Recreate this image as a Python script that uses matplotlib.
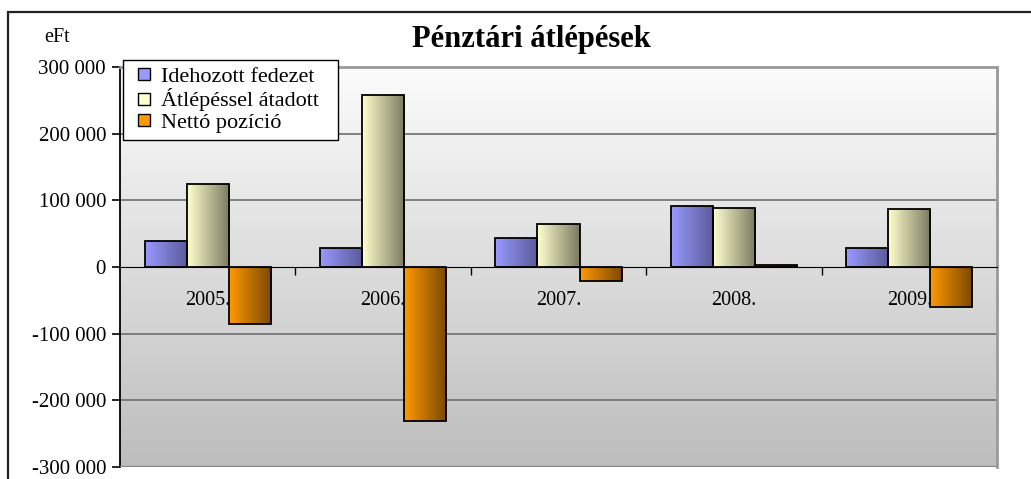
import numpy as np
import matplotlib.pyplot as plt
from matplotlib.lines import Line2D
from matplotlib.patches import Rectangle
from matplotlib.colors import LinearSegmentedColormap

plt.rcParams['font.family'] = ['Liberation Serif', 'DejaVu Serif']

# Data (eFt)
years = ["2005.", "2006.", "2007.", "2008.", "2009."]
series_names = ["Idehozott fedezet", "Átlépéssel átadott", "Nettó pozíció"]
idehozott = [39000, 28000, 43000, 91000, 28000]
atadott = [124000, 258000, 64500, 88000, 87000]
netto = [-86000, -231000, -21000, 3000, -59500]

yticks = [-300000, -200000, -100000, 0, 100000, 200000, 300000]
ytick_labels = ["-300 000", "-200 000", "-100 000", "0", "100 000", "200 000", "300 000"]

# light -> dark gradients for the bars
grad_colors = [("#9999ff", "#5a5a99"), ("#ffffcc", "#7a7a62"), ("#ff9900", "#7a4800")]

fig = plt.figure(figsize=(10.31, 4.79), dpi=100)
ax = fig.add_axes([0.1164, 0.0251, 0.8506, 0.835])

x = np.arange(len(years))
width = 0.24
ax.set_xlim(-0.5, len(years) - 0.5)
ax.set_ylim(-300000, 300000)

# plot area background gradient (light at top, grey at bottom)
bg = np.linspace(0, 1, 256).reshape(-1, 1)
bg_cmap = LinearSegmentedColormap.from_list("bg", ["#fcfcfc", "#bdbdbd"])
ax.imshow(bg, cmap=bg_cmap, aspect="auto", extent=[-0.5, len(years) - 0.5, -300000, 300000],
          origin="upper", zorder=0)

for yv in [-200000, -100000, 100000, 200000, 300000]:
    ax.axhline(yv, color="#6e6e6e", lw=1.2, zorder=1)

# category labels sit behind the bars
for xi, lab in zip(x, years):
    ax.text(xi, -50000, lab, ha="center", va="center", fontsize=14.5, zorder=1.5)

hgrad = np.linspace(0, 1, 64).reshape(1, -1)
for i, vals in enumerate([idehozott, atadott, netto]):
    cmap = LinearSegmentedColormap.from_list("g%d" % i, grad_colors[i])
    bars = ax.bar(x + (i - 1) * width, vals, width, facecolor="none", edgecolor="black",
                  lw=1.3, zorder=3)
    for b in bars:
        x0, y0 = b.get_x(), b.get_y()
        w, h = b.get_width(), b.get_height()
        im = ax.imshow(hgrad, cmap=cmap, aspect="auto",
                       extent=[x0, x0 + w, min(y0, y0 + h), max(y0, y0 + h)], zorder=2)
        im.set_clip_path(b)

ax.set_xlim(-0.5, len(years) - 0.5)
ax.set_ylim(-300000, 300000)

ax.set_yticks(yticks)
ax.set_yticklabels(ytick_labels, fontsize=15)
ax.tick_params(axis="y", direction="out", length=6, width=1.2, pad=4)

ax.spines["bottom"].set_position(("data", 0))
ax.spines["bottom"].set_zorder(4)
ax.set_xticks(np.arange(0.5, len(years) - 0.5, 1.0))
ax.set_xticklabels([])
ax.tick_params(axis="x", direction="out", length=6, width=1.0)
ax.spines["left"].set_linewidth(1.3)
for s in ["top", "right"]:
    ax.spines[s].set_color("#9a9a9a")
    ax.spines[s].set_linewidth(2)

# bottom edge of the plot area
ax.add_patch(Rectangle((0, 0), 1, 0.003, transform=ax.transAxes, color="#8a8a8a", zorder=4))

handles = [Line2D([], [], ls="none", marker="s", markersize=8.5, markerfacecolor=c[0],
                  markeredgecolor="black", markeredgewidth=1.0) for c in grad_colors]
leg = fig.legend(handles, series_names, loc="upper left",
                 bbox_to_anchor=(123 / 1031, 1 - 142 / 479, 215 / 1031, 82 / 479), mode="expand",
                 fontsize=16, frameon=True, fancybox=False, edgecolor="black", framealpha=1,
                 borderpad=0.3, labelspacing=0.05, handlelength=1.3,
                 handletextpad=0.1, borderaxespad=0)
leg.get_frame().set_linewidth(1.0)

fig.text(0.515, 1 - 40 / 479, "Pénztári átlépések", ha="center", va="center",
         fontsize=22, fontweight="bold")
fig.text(57 / 1031, 1 - 38 / 479, "eFt", ha="center", va="center", fontsize=14.5)

# outer chart border
fig.add_artist(Rectangle((8 / 1031, -0.1), 1.1, 1.1 - 12 / 479, transform=fig.transFigure,
                         fill=False, edgecolor="#222222", lw=1.6))

fig.savefig("out.png", dpi=100)
